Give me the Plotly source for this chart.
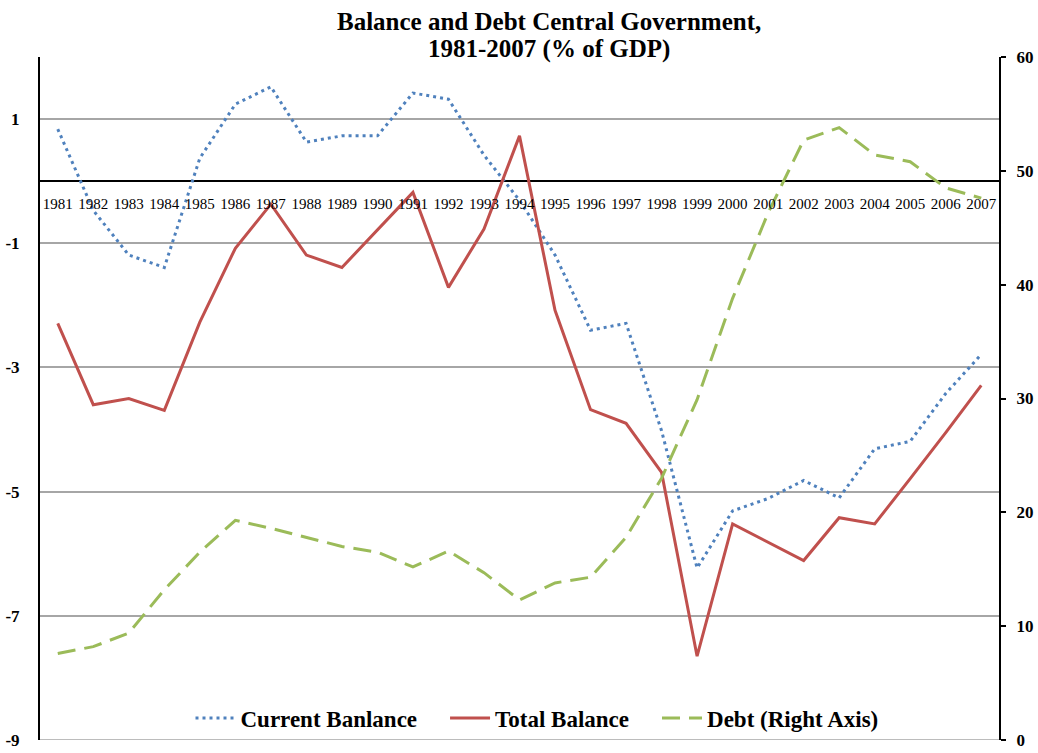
import plotly.graph_objects as go

years = [str(y) for y in range(1981, 2008)]

current_balance = [0.84, -0.47, -1.19, -1.39, 0.37, 1.24, 1.52, 0.63, 0.73, 0.73,
                   1.42, 1.32, 0.42, -0.31, -1.19, -2.40, -2.29, -4.02, -6.23, -5.31,
                   -5.11, -4.82, -5.10, -4.31, -4.19, -3.42, -2.79]

total_balance = [-2.29, -3.60, -3.50, -3.69, -2.27, -1.08, -0.37, -1.19, -1.39, -0.79,
                 -0.18, -1.71, -0.77, 0.73, -2.08, -3.68, -3.90, -4.69, -7.65, -5.52,
                 -5.82, -6.11, -5.42, -5.52, -4.79, -4.05, -3.29]

debt = [7.6, 8.2, 9.4, 13.2, 16.5, 19.3, 18.6, 17.8, 17.0, 16.5,
        15.2, 16.6, 14.7, 12.3, 13.8, 14.3, 17.8, 23.0, 29.9, 38.8,
        46.3, 52.7, 53.8, 51.4, 50.8, 48.5, 47.6]

left_ticks = [-9, -7, -5, -3, -1, 1]
left_tick_text = ["-9", "-7", "-5", "-3", "-1", "1"]
right_ticks = [0, 10, 20, 30, 40, 50, 60]

title_lines = ["Balance and Debt Central Government,", "1981-2007 (% of GDP)"]

SERIF = "Liberation Serif, Times New Roman, serif"
W, H = 1038, 753
M_L, M_R, M_T, M_B = 40, 39, 57, 13
PLOT_H = H - M_T - M_B
PAD = "\u00a0" * 4  # extra room after a legend label


def paper_y(px):
    """Convert a pixel row (from the top of the page) to paper coordinates."""
    return (H - M_B - px) / PLOT_H


fig = go.Figure()
fig.add_trace(go.Scatter(
    x=years, y=current_balance, name="Current Banlance" + PAD, mode="lines",
    line=dict(color="#4F81BD", width=3, dash="3px,4px"),
))
fig.add_trace(go.Scatter(
    x=years, y=total_balance, name="Total Balance" + PAD, mode="lines",
    line=dict(color="#C0504D", width=3),
))
fig.add_trace(go.Scatter(
    x=years, y=debt, name="Debt (Right Axis)", mode="lines", yaxis="y2",
    line=dict(color="#9BBB59", width=3, dash="18px,9px"),
))

# bottom gridline at the -9 level
fig.add_shape(type="line", xref="paper", yref="y", x0=0, x1=1, y0=-9, y1=-9,
              line=dict(color="#A6A6A6", width=1.5), layer="below")

# two-line title with tight line spacing
for txt, py in zip(title_lines, [21, 49]):
    fig.add_annotation(
        text=txt, xref="paper", yref="paper",
        x=(549 - M_L) / (W - M_L - M_R), y=paper_y(py),
        xanchor="center", yanchor="middle", showarrow=False,
        font=dict(family=SERIF, size=25, color="black", weight="bold"),
    )

fig.update_layout(
    width=W, height=H,
    margin=dict(l=M_L, r=M_R, t=M_T, b=M_B, autoexpand=False),
    paper_bgcolor="white", plot_bgcolor="white",
    font=dict(family=SERIF, color="black"),
    xaxis=dict(
        type="category", range=[-0.5, 26.5],
        anchor="free", position=9 / 11,
        showgrid=False, showline=False, ticks="", automargin=False,
        tickfont=dict(family=SERIF, size=15, color="black"),
        ticklabelstandoff=12,
    ),
    yaxis=dict(
        range=[-9, 2], tickvals=left_ticks, ticktext=left_tick_text,
        showgrid=True, gridcolor="#A6A6A6", gridwidth=1.5,
        zeroline=True, zerolinecolor="black", zerolinewidth=2,
        showline=True, linecolor="black", linewidth=2,
        ticks="", ticklabelstandoff=15, automargin=False,
        tickfont=dict(family=SERIF, size=17, color="black", weight="bold"),
    ),
    yaxis2=dict(
        overlaying="y", side="right", range=[0, 60], tickvals=right_ticks,
        showgrid=False, zeroline=False, automargin=False,
        showline=True, linecolor="black", linewidth=2,
        ticks="outside", ticklen=5, tickwidth=2, tickcolor="black",
        ticklabelstandoff=7,
        tickfont=dict(family=SERIF, size=17, color="black", weight="bold"),
    ),
    legend=dict(
        orientation="h", x=(537 - M_L) / (W - M_L - M_R), xanchor="center",
        y=paper_y(718), yanchor="middle",
        bgcolor="rgba(0,0,0,0)",
        font=dict(family=SERIF, size=23, color="black", weight="bold"),
        itemwidth=40,
    ),
)

fig.write_html("out.html")
